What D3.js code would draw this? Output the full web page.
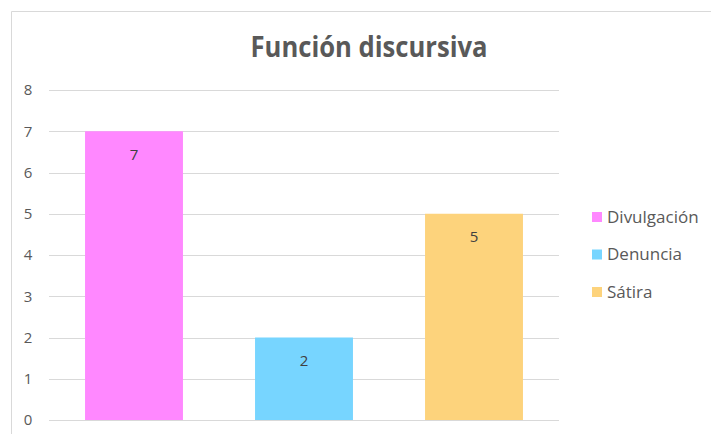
<!DOCTYPE html>
<html>
<head>
<meta charset="utf-8">
<script src="https://cdn.jsdelivr.net/npm/d3@7"></script>
<style>
  body { margin: 0; background: #fff; }
  text { font-family: "Open Sans", "Noto Sans", sans-serif; }
</style>
</head>
<body>
<svg id="chart" width="711" height="434"></svg>
<script>
// data
const categories = ["Divulgación", "Denuncia", "Sátira"]
const values = [7, 2, 5]
const colors = ["#FF88FF", "#77D5FF", "#FDD37C"]
const yTicks = [0, 1, 2, 3, 4, 5, 6, 7, 8]

const svg = d3.select("#chart")
const margin = { left: 49, right: 559, top: 90, bottom: 420 }

// chart frame (only top and left edges visible)
svg.append("path")
  .attr("d", "M11.5,434 V11.5 H711")
  .attr("fill", "none")
  .attr("stroke", "#d9d9d9")
  .attr("stroke-width", 1)

const x = d3.scaleBand()
  .domain(categories)
  .range([margin.left, margin.right])
  .paddingInner(0.424)
  .paddingOuter(0.212)

const y = d3.scaleLinear()
  .domain([0, 8])
  .range([margin.bottom, margin.top])

// gridlines
svg.append("g")
  .selectAll("line")
  .data(yTicks)
  .join("line")
  .attr("x1", margin.left)
  .attr("x2", margin.right)
  .attr("y1", d => Math.round(y(d)) + 0.5)
  .attr("y2", d => Math.round(y(d)) + 0.5)
  .attr("stroke", "#d9d9d9")
  .attr("stroke-width", 1)

// y labels
svg.append("g")
  .selectAll("text")
  .data(yTicks)
  .join("text")
  .attr("x", 28)
  .attr("y", d => y(d))
  .attr("dy", "0.35em")
  .attr("text-anchor", "middle")
  .attr("font-size", 15)
  .attr("fill", "#595959")
  .text(d => d)

// bars
svg.append("g")
  .selectAll("rect")
  .data(values)
  .join("rect")
  .attr("x", (d, i) => x(categories[i]))
  .attr("y", d => y(d))
  .attr("width", x.bandwidth())
  .attr("height", d => y(0) - y(d))
  .attr("fill", (d, i) => colors[i])

// data labels
svg.append("g")
  .selectAll("text")
  .data(values)
  .join("text")
  .attr("x", (d, i) => x(categories[i]) + x.bandwidth() / 2)
  .attr("y", d => y(d) + 23)
  .attr("dy", "0.35em")
  .attr("text-anchor", "middle")
  .attr("font-size", 15)
  .attr("fill", "#404040")
  .text(d => d)

// title
svg.append("text")
  .attr("x", 369)
  .attr("y", 57)
  .attr("text-anchor", "middle")
  .attr("font-size", 28)
  .attr("font-weight", "bold")
  .attr("fill", "#595959")
  .attr("textLength", 237)
  .attr("lengthAdjust", "spacingAndGlyphs")
  .text("Función discursiva")

// legend
const legend = svg.append("g")
  .selectAll("g")
  .data(categories)
  .join("g")
  .attr("transform", (d, i) => `translate(592, ${217 + i * 37.5})`)

legend.append("rect")
  .attr("x", 0)
  .attr("y", -5)
  .attr("width", 10)
  .attr("height", 10)
  .attr("fill", (d, i) => colors[i])

legend.append("text")
  .attr("x", 15)
  .attr("y", 0)
  .attr("dy", "0.35em")
  .attr("font-size", 17)
  .attr("fill", "#595959")
  .text(d => d)
</script>
</body>
</html>
